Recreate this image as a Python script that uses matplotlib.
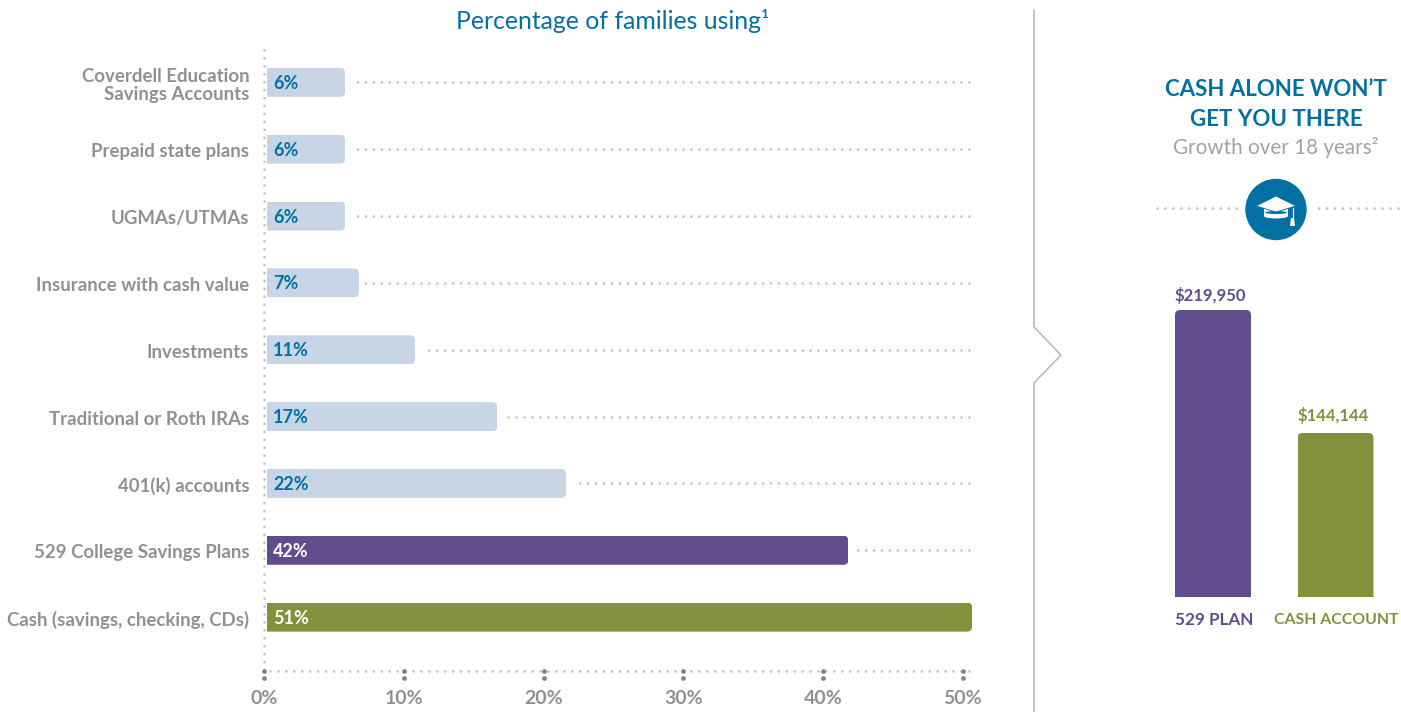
import matplotlib
matplotlib.use("Agg")
import matplotlib.pyplot as plt
from matplotlib.patches import FancyBboxPatch, Circle, Polygon, Ellipse
from matplotlib.transforms import IdentityTransform, ScaledTranslation

plt.rcParams['font.family'] = ['Lato', 'DejaVu Sans']

categories = ["Coverdell Education\nSavings Accounts", "Prepaid state plans", "UGMAs/UTMAs",
              "Insurance with cash value", "Investments", "Traditional or Roth IRAs",
              "401(k) accounts", "529 College Savings Plans", "Cash (savings, checking, CDs)"]
bar_ends = [5.8, 5.8, 5.8, 6.8, 10.8, 16.7, 21.6, 41.8, 50.65]
value_labels = ["6%", "6%", "6%", "7%", "11%", "17%", "22%", "42%", "51%"]
x_ticks = [0, 10, 20, 30, 40, 50]
x_tick_labels = ["0%", "10%", "20%", "30%", "40%", "50%"]
growth_names = ["529 PLAN", "CASH ACCOUNT"]
growth_values = [219950, 144144]
growth_labels = ["$219,950", "$144,144"]

TEAL = "#0270a3"; LIGHT = "#c7d5e5"; PURPLE = "#5f4e8b"; OLIVE = "#84913c"
GREY = "#8f9196"; DOT = "#bfc0c4"; DARK = "#808186"; LINE = "#b4b5b8"
bar_colors = [LIGHT] * 7 + [PURPLE, OLIVE]
text_colors = [TEAL] * 7 + ["white", "white"]

W, H = 1401, 712
fig = plt.figure(figsize=(W / 100, H / 100), dpi=100, facecolor="white")

def axes_px(x0, y0, x1, y1, **kw):
    return fig.add_axes([x0 / W, 1 - y1 / H, (x1 - x0) / W, (y1 - y0) / H], **kw)

overlay = axes_px(0, 0, W, H)
overlay.set_xlim(0, W); overlay.set_ylim(H, 0); overlay.axis("off")

def dotted(ax, xs, ys, color=DOT, **kw):
    ax.plot(xs, ys, color=color, lw=1.9, linestyle=(0, (0.01, 3.0)),
            dash_capstyle="round", clip_on=False, **kw)

# ---- left chart
ax = axes_px(264, 50, 963, 671)
ax.patch.set_alpha(0)
ax.set_xlim(0, 50)
ax.set_ylim(8.806, -0.484)
for s in ax.spines.values():
    s.set_visible(False)
ypos = list(range(len(categories)))
left = 0.2
dotted(ax, [0, 0], [-0.484, 8.806], zorder=1)
dotted(ax, [50.45, 0], [8.806, 8.806], zorder=1)
bars = ax.barh(ypos, [e - left for e in bar_ends], left=left, height=29 / 66.85,
               color=bar_colors, zorder=3)
fig.canvas.draw()
for b in bars:
    bb = b.get_window_extent()
    b.set_clip_box(None)
    b.set_clip_path(FancyBboxPatch((bb.x0 - 20, bb.y0), bb.width + 20, bb.height,
                                   boxstyle="round,pad=0,rounding_size=5", transform=IdentityTransform()))
for y, end, lab, tc in zip(ypos, bar_ends, value_labels, text_colors):
    ax.annotate(lab, (0.65, y), xytext=(0, -0.7), textcoords="offset points", color=tc, fontsize=13,
                fontweight="bold", va="center", ha="left", zorder=4)
    if end < 50:
        dotted(ax, [50.45, end + 0.4], [y, y], zorder=2)
ax.set_yticks(ypos)
ax.set_yticklabels(categories, color=GREY, fontsize=13.4, fontweight="bold", linespacing=1.08,
                   multialignment="right")
ax.tick_params(axis="y", length=0, pad=10.6)
shift = ScaledTranslation(0, -1 / 100, fig.dpi_scale_trans)
for t in ax.get_yticklabels():
    t.set_transform(t.get_transform() + shift)
ax.set_xticks(x_ticks)
ax.set_xticklabels(x_tick_labels, color=GREY, fontsize=14, fontweight="bold")
ax.tick_params(axis="x", length=0, pad=14)
tr = ax.get_xaxis_transform()
for frac in (0, -7 / 621):
    ax.plot(x_ticks, [frac] * len(x_ticks), transform=tr, ls="none", marker="o", ms=3.4,
            color=DARK, mec="none", clip_on=False, zorder=5)

overlay.text(613, 21, "Percentage of families using¹", color=TEAL, fontsize=17.8, ha="center", va="center")

# ---- separator with chevron
overlay.plot([1034, 1034, 1061, 1034, 1034], [10, 327, 355, 383, 712], color=LINE, lw=1.1)

# ---- right panel
overlay.text(1276, 90, "CASH ALONE WON’T", color=TEAL, fontsize=16, fontweight="bold", ha="center", va="center")
overlay.text(1276, 119.5, "GET YOU THERE", color=TEAL, fontsize=16, fontweight="bold", ha="center", va="center")
overlay.text(1276, 147, "Growth over 18 years²", color="#a0a2a6", fontsize=14.9, ha="center", va="center")
dotted(overlay, [1157, 1242], [208, 208])
dotted(overlay, [1398, 1312], [208, 208])
overlay.add_patch(Circle((1276, 209.5), 30, color=TEAL, zorder=3))
overlay.add_patch(Polygon([(1264, 208), (1288, 208), (1288, 216), (1264, 216)], fc="white", ec="none", zorder=4))
overlay.add_patch(Ellipse((1276, 216), 24, 5, fc="white", ec="none", zorder=4))
overlay.add_patch(Ellipse((1276, 212.5), 22, 3, fc=TEAL, ec="none", zorder=5))
overlay.add_patch(Polygon([(1256, 206), (1276, 196), (1296, 206), (1276, 212)], fc="white", ec=TEAL, lw=0.6, zorder=6))
overlay.plot([1292.5, 1292.5], [208, 220], color="white", lw=0.9, zorder=6)
overlay.add_patch(Polygon([(1291, 218), (1294, 218), (1295, 226), (1290, 226)], fc="white", ec="none", zorder=6))

spacing = 122.5
ax2 = axes_px(1175, 310, 1373.5, 597)
ax2.patch.set_alpha(0)
ax2.set_xlim(-38 / spacing, 1 + 38 / spacing)
ax2.set_ylim(43050, 219950)   # the reference bars start from a truncated baseline
ax2.axis("off")
gcolors = [PURPLE, OLIVE]
gbars = ax2.bar([0, 1], growth_values, width=76 / spacing, color=gcolors)
fig.canvas.draw()
for b in gbars:
    bb = b.get_window_extent()
    b.set_clip_path(FancyBboxPatch((bb.x0, bb.y0), bb.width, bb.height,
                                   boxstyle="round,pad=0,rounding_size=5", transform=IdentityTransform()))
for i, (v, lab, name, c, fs, dy) in enumerate(zip(growth_values, growth_labels, growth_names, gcolors,
                                                   (12.3, 11.4), (4.3, 6.5))):
    ax2.annotate(lab, (i, v), xytext=(-2, dy), textcoords="offset points", color=c, fontsize=12,
                 fontweight="bold", ha="center", va="bottom", annotation_clip=False)
    ax2.annotate(name, (i, 0), xycoords=("data", "axes fraction"), xytext=(0.5, -16.5), textcoords="offset points",
                 color=c, fontsize=fs, fontweight="bold", ha="center", va="center", annotation_clip=False)

fig.savefig("out.png", dpi=100, facecolor="white")
